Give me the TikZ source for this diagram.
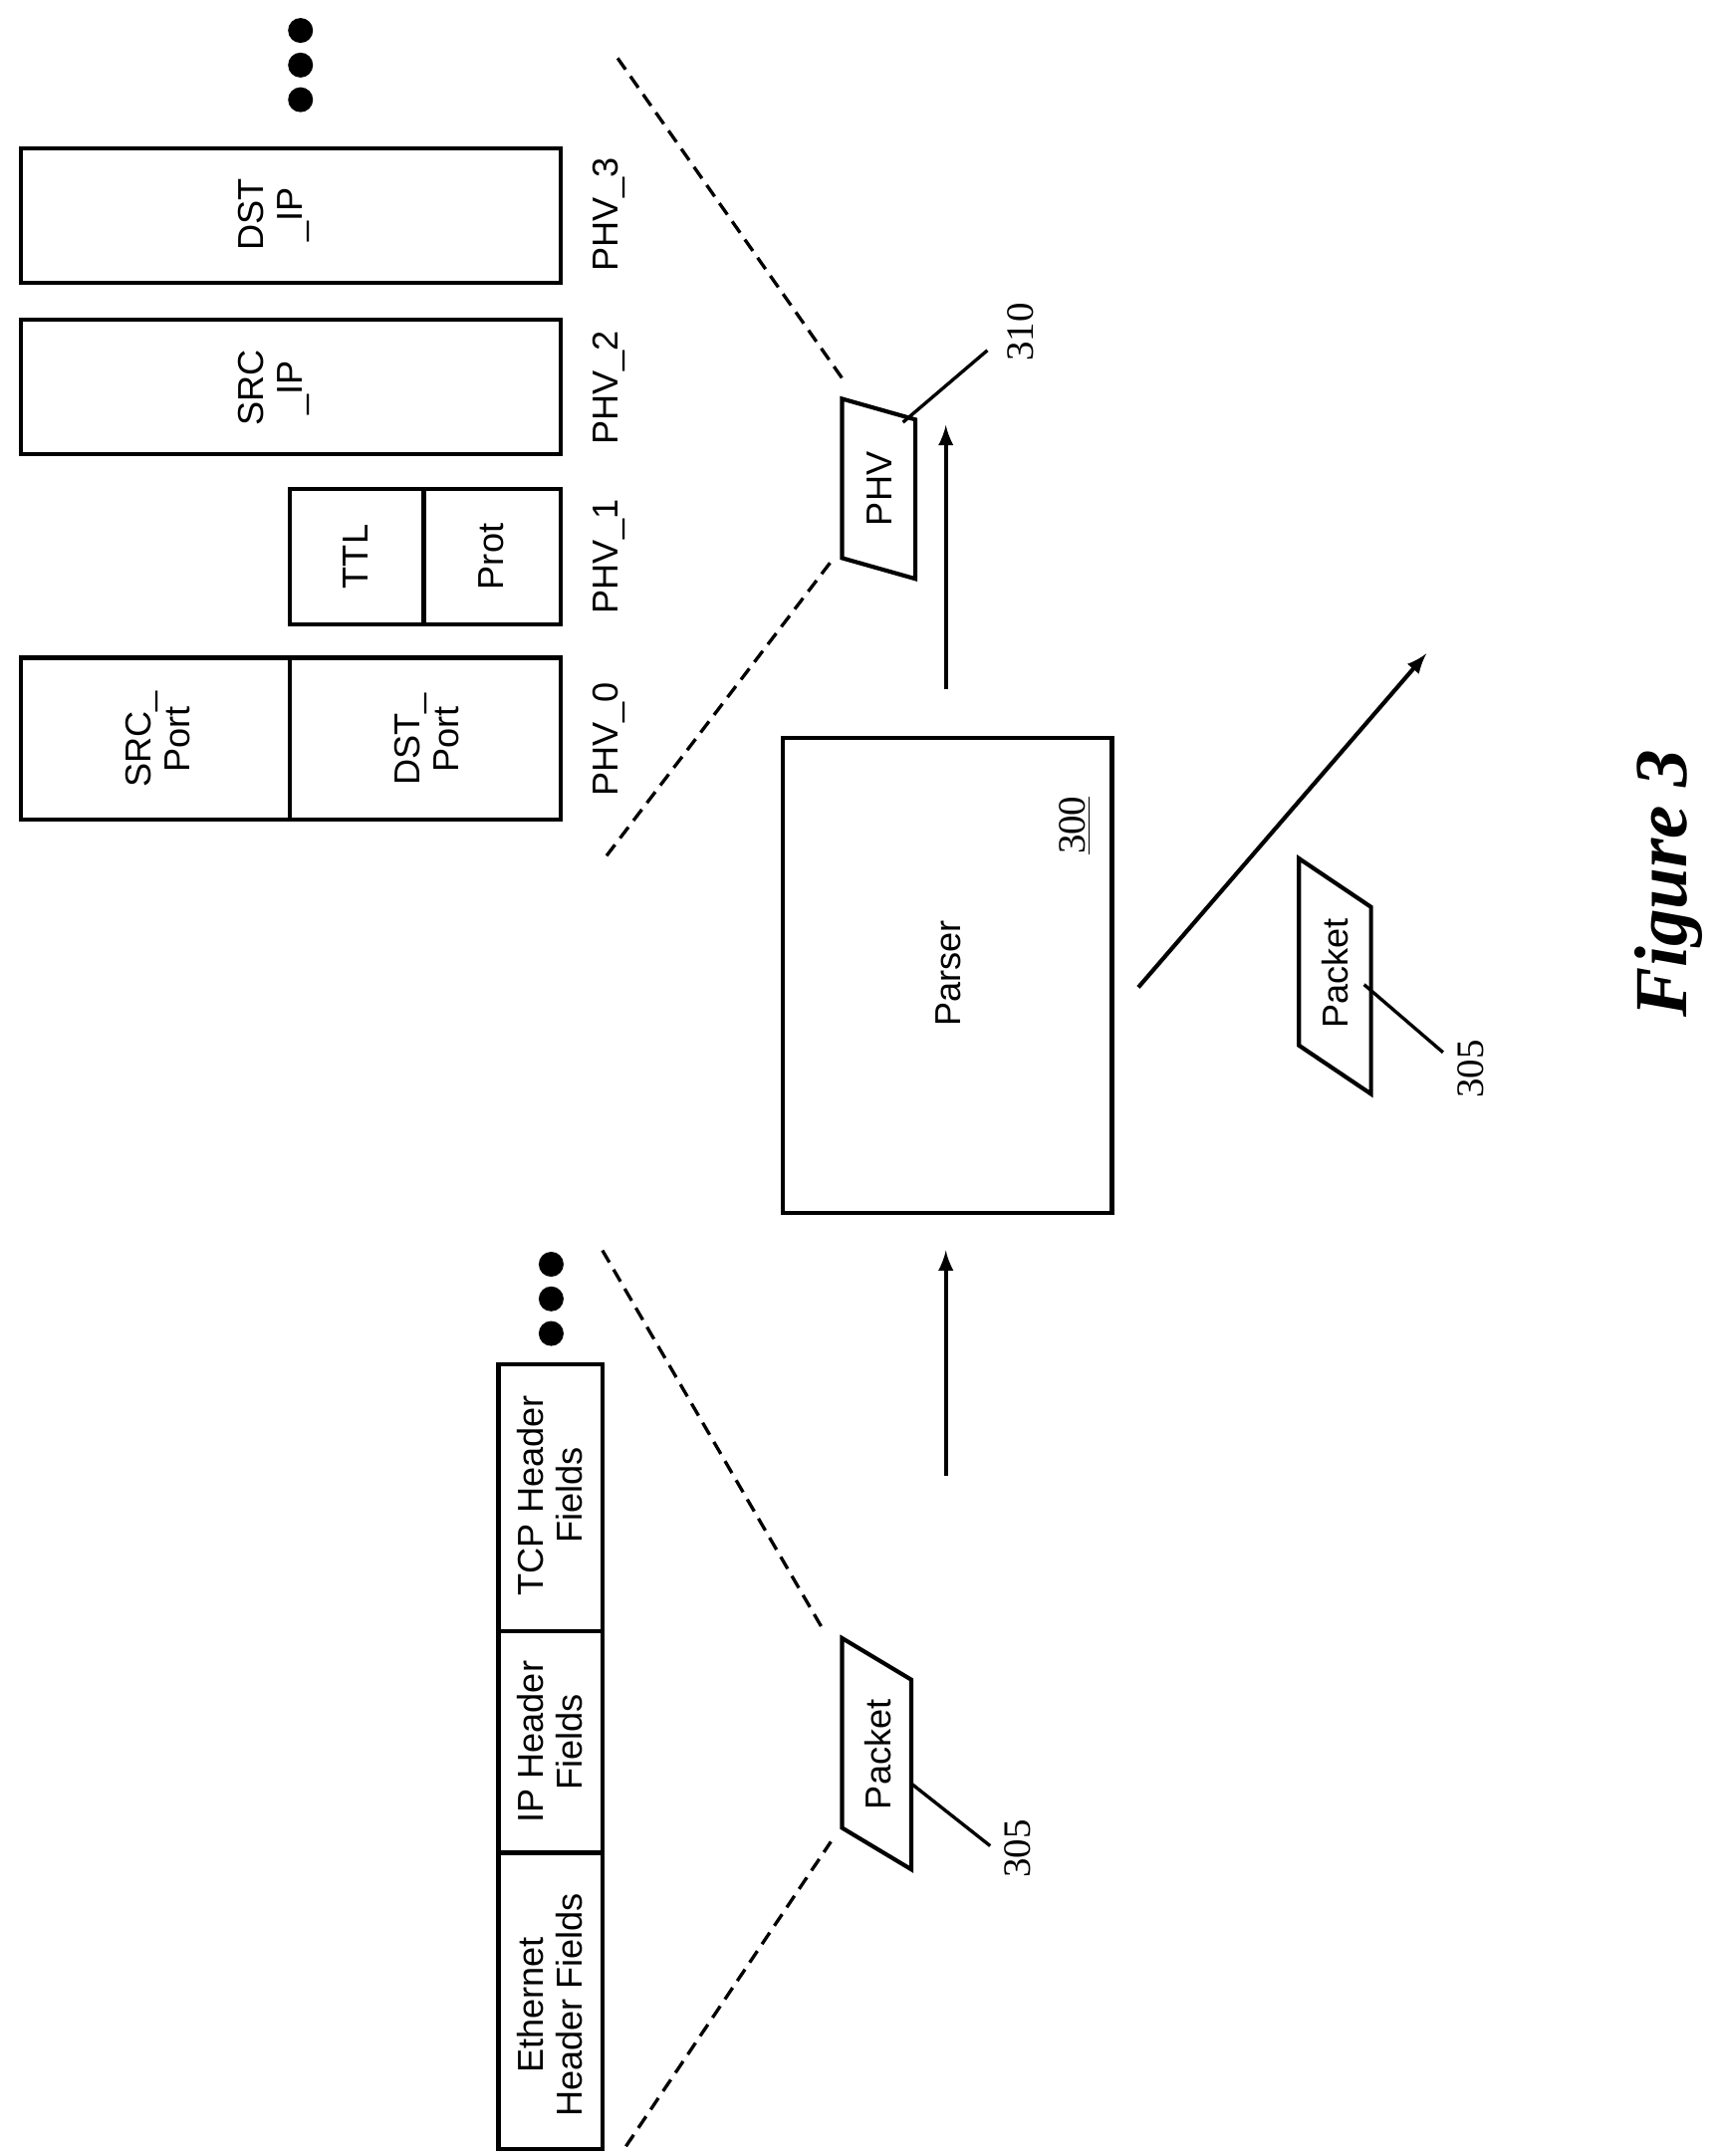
\documentclass[tikz,border=0pt]{standalone}
\usepackage{fontspec}
\setmainfont{Liberation Serif}
\setsansfont{Liberation Sans}
\begin{document}
\begin{tikzpicture}[x=0.5pt,y=-0.5pt,
  box/.style={draw,line width=1.5pt},
  dsh/.style={dash pattern=on 5pt off 3pt,line width=1.2pt},
  arr/.style={-latex,line width=1.5pt},
  lbl/.style={font=\sffamily\fontsize{13}{14}\selectfont,rotate=90,align=center},
  num/.style={font=\fontsize{14}{15}\selectfont,rotate=90}]
\useasboundingbox (0,0) rectangle (1240,1557);
% left header fields
\draw[box] (360,985) rectangle (435,1552);
\draw[line width=1.5pt] (360,1338)--(435,1338) (360,1178)--(435,1178);
\node[lbl] (eth) at (397,1448) {Ethernet\\Header Fields};
\node[lbl] (iph) at (397,1258) {IP Header\\Fields};
\node[lbl] (tcp) at (397,1080) {TCP Header\\Fields};
\foreach \y in {913,938,963}{\fill (398,\y) circle (9);}
% left packet
\draw[box] (608,1183)--(658,1213)--(658,1350)--(608,1320)--cycle;
\node[lbl] (pk1) at (634,1267) {Packet};
\coordinate (pk1a) at (658,1288); \coordinate (pk1b) at (715,1333);
\draw[line width=1.2pt] (pk1a)--(pk1b);
\node[num] (n305a) at (735,1335) {305};
\draw[dsh] (435,903)--(595,1178);
\draw[dsh] (452,1550)--(600,1330);
% parser
\coordinate (a1s) at (683,1066); \coordinate (a1e) at (683,903);
\draw[arr] (a1s)--(a1e);
\draw[box] (565,533) rectangle (803,876);
\node[lbl] (parser) at (685,703) {Parser};
\node[num] (n300) at (776,596) {\underline{300}};
\coordinate (a2s) at (683,498); \coordinate (a2e) at (683,307);
\draw[arr] (a2s)--(a2e);
% PHV
\draw[box] (608,288)--(661,303)--(661,418)--(608,403)--cycle;
\node[lbl] (phv) at (635,353) {PHV};
\coordinate (pa) at (652,305); \coordinate (pb) at (713,253);
\draw[line width=1.2pt] (pa)--(pb);
\node[num] (n310) at (737,240) {310};
\draw[dsh] (446,42)--(608,273);
\draw[dsh] (438,618)--(602,403);
% PHV containers
\draw[box] (15,475) rectangle (405,592); \draw[line width=1.5pt] (209,475)--(209,592);
\node[lbl] (sp) at (114,534) {SRC\_\\Port};
\node[lbl] (dp) at (308,534) {DST\_\\Port};
\draw[box] (209,353) rectangle (405,451); \draw[line width=1.5pt] (306,353)--(306,451);
\node[lbl] (ttl) at (257,402) {TTL};
\node[lbl] (prot) at (355,402) {Prot};
\draw[box] (15,231) rectangle (405,328);
\node[lbl] (sip) at (198,280) {SRC\\\_IP};
\draw[box] (15,107) rectangle (405,204);
\node[lbl] (dip) at (198,155) {DST\\\_IP};
\node[lbl] (p0) at (440,534) {PHV\_0};
\node[lbl] (p1) at (440,402) {PHV\_1};
\node[lbl] (p2) at (440,280) {PHV\_2};
\node[lbl] (p3) at (440,155) {PHV\_3};
\foreach \y in {22,47,72}{\fill (217,\y) circle (9);}
% packet 2
\draw[box] (938,620)--(990,655)--(990,790)--(938,755)--cycle;
\node[lbl] (pk2) at (964,703) {Packet};
\coordinate (pk2a) at (985,711); \coordinate (pk2b) at (1042,760);
\draw[line width=1.2pt] (pk2a)--(pk2b);
\node[num] (n305b) at (1062,772) {305};
\coordinate (a3s) at (822,713); \coordinate (a3e) at (1030,472);
\draw[arr] (a3s)--(a3e);
\node[rotate=90,font=\bfseries\itshape\fontsize{27}{29}\selectfont] (fig) at (1205,638) {Figure 3};
\end{tikzpicture}
\end{document}
